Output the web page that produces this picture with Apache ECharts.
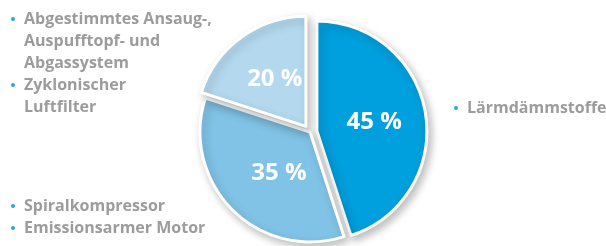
<!DOCTYPE html>
<html>
<head>
<meta charset="utf-8">
<script src="https://cdn.jsdelivr.net/npm/echarts@6/dist/echarts.min.js"></script>
<style>
html,body{margin:0;padding:0;background:#fff;}
#main{width:606px;height:246px;}
</style>
</head>
<body>
<div id="main"></div>
<script>
// Anteile
var names = ['Lärmdämmstoffe', 'Motor/Kompressor', 'Ansaug/Filter'];
var values = [45, 35, 20];
var colors = ['#009fdd', '#80c3e6', '#b4d9ee'];

// Beschriftungen links/rechts
var leftTop = [['Abgestimmtes Ansaug-,', 'Auspufftopf- und', 'Abgassystem'], ['Zyklonischer', 'Luftfilter']];
var leftBottom = [['Spiralkompressor'], ['Emissionsarmer Motor']];
var rightItems = [['Lärmdämmstoffe']];

var font = '"Open Sans", "Noto Sans", sans-serif';
var lh = 22;
// Feinkorrektur der Prozent-Labels
var labelPad = [[0,0,16,0], [0,0,6,20], [0,0,6,6]];

function bulletList(list, x, y){
	var els = [];
	var row = 0;
	for (var i = 0; i < list.length; i++){
		els.push({
			type:'circle', shape:{cx:x, cy:y + row*lh, r:2},
			style:{fill:'#2aa6dc'}
		});
		for (var j = 0; j < list[i].length; j++){
			els.push({
				type:'text', x:x + 11, y:y + row*lh,
				style:{text:list[i][j], fill:'#9c9c9c', font:'bold 16px ' + font, textVerticalAlign:'middle'}
			});
			row++;
		}
	}
	return els;
}

var myChart = echarts.init(document.getElementById('main'));
var data = [];
for (var i = 0; i < values.length; i++){
	data.push({
		name:names[i], value:values[i], selected:(i != 1),
		itemStyle:{color:colors[i]},
		label:{padding:labelPad[i]}
	});
}
var option = {
	animation:false,
	series:[{
		type:'pie',
		center:[310, 132],
		radius:[0, 110],
		startAngle:90,
		clockwise:true,
		selectedMode:'multiple',
		selectedOffset:7,
		data:data,
		itemStyle:{
			borderColor:'#fff',
			borderWidth:3,
			shadowBlur:8,
			shadowOffsetX:3,
			shadowOffsetY:4,
			shadowColor:'rgba(0,0,0,0.25)'
		},
		label:{
			show:true,
			position:'inside',
			formatter:'{c} %',
			color:'#fff',
			fontFamily:font,
			fontWeight:'bold',
			fontSize:24
		},
		labelLine:{show:false},
		emphasis:{disabled:true}
	}],
	graphic:[].concat(
		bulletList(leftTop, 13, 19),
		bulletList(leftBottom, 13, 206),
		bulletList(rightItems, 456, 108)
	)
};
myChart.setOption(option);
</script>
</body>
</html>
